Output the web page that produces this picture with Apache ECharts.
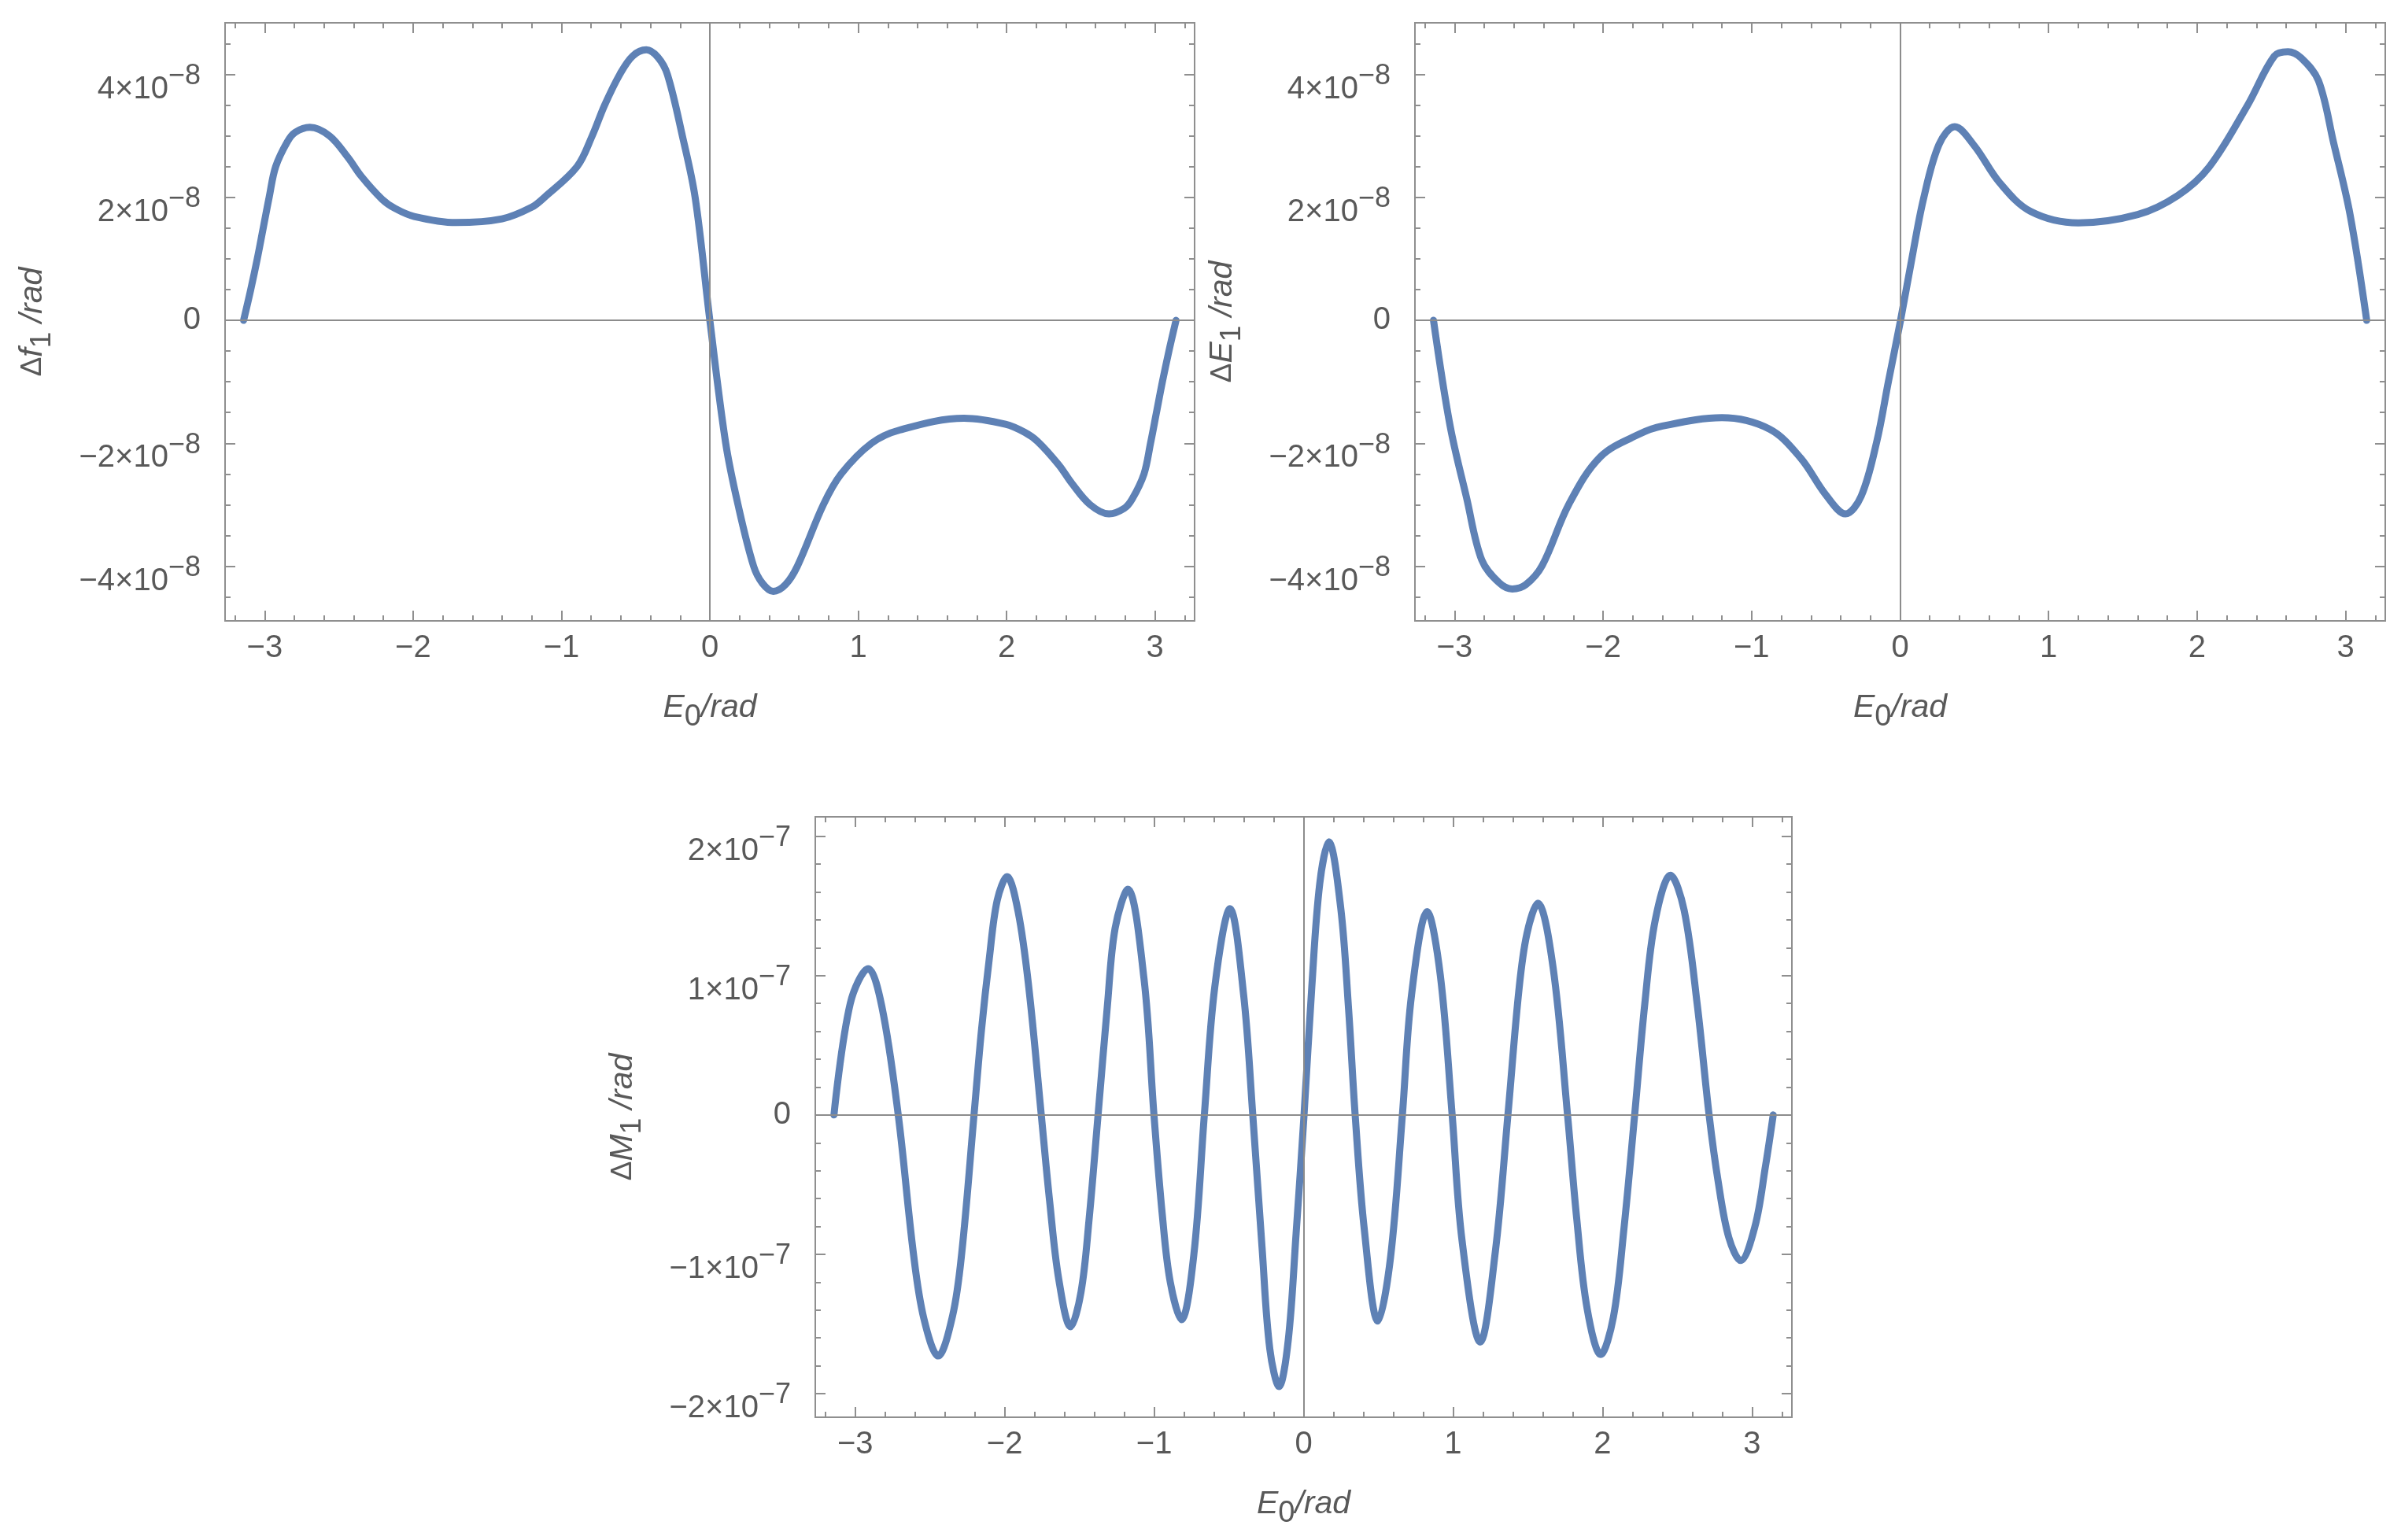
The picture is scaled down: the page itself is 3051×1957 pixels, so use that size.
<!DOCTYPE html>
<html><head><meta charset="utf-8">
<script src="https://cdn.jsdelivr.net/npm/echarts@6/dist/echarts.min.js"></script>
<style>html,body{margin:0;padding:0;background:#fff}#c{width:3051px;height:1957px}</style>
</head><body><div id="c"></div>
<script>
// ---------- data ----------
// Plot 1: Δf1 vs E0
const f1X = [-3.142,-3.094,-3.050,-3.010,-2.970,-2.926,-2.846,-2.793,-2.696,-2.563,-2.439,-2.351,-2.209,-2.121,-1.993,-1.710,-1.400,-1.200,-1.115,-0.895,-0.793,-0.709,-0.607,-0.520,-0.428,-0.350,-0.286,-0.185,-0.099,0.000,0.107,0.190,0.295,0.355,0.428,0.510,0.590,0.765,0.885,1.090,1.279,1.713,1.993,2.121,2.209,2.351,2.439,2.563,2.690,2.793,2.846,2.926,2.970,3.010,3.050,3.094,3.142];
const f1Y = [0,0.5e-8,1.0e-8,1.5e-8,2.0e-8,2.5e-8,2.91e-8,3.06e-8,3.14e-8,3.0e-8,2.65e-8,2.35e-8,1.97e-8,1.82e-8,1.69e-8,1.59e-8,1.65e-8,1.84e-8,2.0e-8,2.5e-8,3.0e-8,3.5e-8,4.0e-8,4.30e-8,4.40e-8,4.28e-8,4.0e-8,3.0e-8,2.0e-8,0,-2.0e-8,-3.0e-8,-4.0e-8,-4.28e-8,-4.41e-8,-4.30e-8,-4.0e-8,-3.0e-8,-2.5e-8,-2.0e-8,-1.785e-8,-1.593e-8,-1.69e-8,-1.82e-8,-1.97e-8,-2.35e-8,-2.65e-8,-3.0e-8,-3.15e-8,-3.06e-8,-2.91e-8,-2.5e-8,-2.0e-8,-1.5e-8,-1.0e-8,-0.5e-8,0];
// Plot 2: ΔE1 vs E0
const e1X = [-3.142,-3.030,-2.920,-2.817,-2.700,-2.612,-2.520,-2.410,-2.230,-2.018,-1.755,-1.600,-1.200,-0.880,-0.670,-0.500,-0.368,-0.262,-0.157,-0.079,0.003,0.079,0.157,0.262,0.368,0.500,0.670,0.880,1.200,1.600,1.870,2.080,2.340,2.520,2.612,2.700,2.817,2.920,3.030,3.142];
const e1Y = [0,-1.72e-8,-2.88e-8,-3.90e-8,-4.27e-8,-4.37e-8,-4.30e-8,-3.99e-8,-2.99e-8,-2.22e-8,-1.85e-8,-1.72e-8,-1.585e-8,-1.77e-8,-2.24e-8,-2.84e-8,-3.15e-8,-2.86e-8,-1.97e-8,-1.0e-8,0,1.0e-8,1.97e-8,2.86e-8,3.15e-8,2.84e-8,2.24e-8,1.77e-8,1.585e-8,1.72e-8,2.03e-8,2.49e-8,3.50e-8,4.30e-8,4.37e-8,4.27e-8,3.90e-8,2.88e-8,1.72e-8,0];
// Plot 3: ΔM1 vs E0
const m1X = [-3.142,-3.033,-2.913,-2.822,-2.712,-2.611,-2.541,-2.445,-2.348,-2.287,-2.205,-2.155,-2.103,-2.050,-1.984,-1.910,-1.839,-1.755,-1.699,-1.638,-1.559,-1.489,-1.436,-1.375,-1.313,-1.261,-1.176,-1.068,-1.001,-0.945,-0.892,-0.817,-0.734,-0.664,-0.594,-0.492,-0.401,-0.340,-0.278,-0.226,-0.164,-0.103,-0.050,0.003,0.055,0.108,0.169,0.248,0.301,0.345,0.406,0.497,0.582,0.661,0.722,0.827,0.915,0.994,1.060,1.182,1.283,1.367,1.441,1.494,1.567,1.669,1.766,1.827,1.897,1.988,2.073,2.143,2.215,2.283,2.353,2.455,2.546,2.634,2.713,2.774,2.845,2.924,3.020,3.090,3.142];
const m1Y = [0,0.80e-7,1.05e-7,0.78e-7,0,-0.99e-7,-1.46e-7,-1.73e-7,-1.44e-7,-0.99e-7,0,0.61e-7,1.12e-7,1.54e-7,1.71e-7,1.46e-7,0.92e-7,0,-0.62e-7,-1.18e-7,-1.52e-7,-1.27e-7,-0.76e-7,0,0.78e-7,1.34e-7,1.62e-7,0.98e-7,0,-0.72e-7,-1.20e-7,-1.47e-7,-1.0e-7,0,0.92e-7,1.48e-7,0.86e-7,0,-0.95e-7,-1.68e-7,-1.95e-7,-1.62e-7,-0.85e-7,0,0.92e-7,1.66e-7,1.96e-7,1.49e-7,0.76e-7,0,-0.82e-7,-1.48e-7,-1.02e-7,0,0.86e-7,1.46e-7,1.0e-7,0,-0.90e-7,-1.63e-7,-0.98e-7,0,0.90e-7,1.30e-7,1.52e-7,1.06e-7,0,-0.74e-7,-1.39e-7,-1.72e-7,-1.45e-7,-0.82e-7,0,0.80e-7,1.40e-7,1.72e-7,1.47e-7,0.79e-7,0,-0.48e-7,-0.88e-7,-1.045e-7,-0.80e-7,-0.37e-7,0];

// tick labels
const xTickValues = [-3,-2,-1,0,1,2,3];
const xTickLabels = ['−3','−2','−1','0','1','2','3'];
const yTickValues8 = [-4e-8,-2e-8,0,2e-8,4e-8];
const yTickMant8 = ['−4','−2','0','2','4'];
const yTickExp8 = ['−8','−8','','−8','−8'];
const yTickValues7 = [-2e-7,-1e-7,0,1e-7,2e-7];
const yTickMant7 = ['−2','−1','0','1','2'];
const yTickExp7 = ['−7','−7','','−7','−7'];

// ---------- styling ----------
const FONT = 'Liberation Sans';
const TXT = '#595959';
const FRAME = '#8f8f8f';
const ZEROLINE = '#8c8c8c';
const LINE = '#5e81b5';

function zip(xs, ys){ return xs.map((x,i)=>[x, ys[i]]); }

function xFmt(v){
  const i = xTickValues.findIndex(t => Math.abs(t - v) < 1e-6);
  return i < 0 ? '' : '{z|' + xTickLabels[i] + '}';
}
function yFmt(vals, mant, exps, step){
  return function(v){
    const i = vals.findIndex(t => Math.abs(t - v) < step * 1e-3);
    if (i < 0) return '';
    if (!exps[i]) return '{z|' + mant[i] + '}';
    return '{m|' + mant[i] + '×10}{e|' + exps[i] + '}';
  };
}

const labelRich = {
  z: {fontFamily: FONT, fontSize: 40, color: TXT},
  m: {fontFamily: FONT, fontSize: 40, color: TXT, padding: [38,0,0,0]},
  e: {fontFamily: FONT, fontSize: 36, color: TXT, padding: [5,0,0,0]}
};

const XR = [-3.267, 3.267];

const grids = [
  {left: 286, top: 29, width: 1232, height: 760},
  {left: 1798, top: 29, width: 1233, height: 760},
  {left: 1036, top: 1038, width: 1241, height: 763}
];
const yRanges = [[-4.89e-8, 4.84e-8], [-4.89e-8, 4.84e-8], [-2.17e-7, 2.14e-7]];
const yMajor = [2e-8, 2e-8, 1e-7];
const yMinor = [0.5e-8, 0.5e-8, 0.2e-7];
const yFormatters = [
  yFmt(yTickValues8, yTickMant8, yTickExp8, 2e-8),
  yFmt(yTickValues8, yTickMant8, yTickExp8, 2e-8),
  yFmt(yTickValues7, yTickMant7, yTickExp7, 1e-7)
];
const yNames = ['{d|Δ}{i|f}{s|1}{i| /rad}', '{d|Δ}{i|E}{s|1}{i| /rad}', '{d|Δ}{i|M}{s|1}{i| /rad}'];
const xName = '{i|E}{s|0}{i|/rad}';

const xAxes = [], yAxes = [];
grids.forEach((g, gi) => {
  const tickStyle = {color: FRAME, width: 2};
  const baseX = {gridIndex: gi, type: 'value', min: XR[0], max: XR[1],
    axisLine: {show: false, onZero: false}, splitLine: {show: false}};
  xAxes.push(Object.assign({}, baseX, {position: 'bottom', minInterval: 1, maxInterval: 1,
    axisTick: {show: true, inside: true, length: 13, lineStyle: tickStyle},
    axisLabel: {show: true, margin: 15, formatter: xFmt, rich: labelRich, fontFamily: FONT, fontSize: 40, color: TXT},
    name: xName, nameLocation: 'middle', nameGap: 80,
    nameTextStyle: {fontFamily: FONT, fontSize: 41, color: TXT,
      rich: {i: {fontFamily: FONT, fontSize: 41, fontStyle: 'italic', color: TXT},
             s: {fontFamily: FONT, fontSize: 38, color: TXT, padding: [24,0,0,0]}}}}));
  xAxes.push(Object.assign({}, baseX, {position: 'bottom', minInterval: 0.2, maxInterval: 0.2,
    axisTick: {show: true, inside: true, length: 7, lineStyle: tickStyle}, axisLabel: {show: false}}));
  xAxes.push(Object.assign({}, baseX, {position: 'top', minInterval: 1, maxInterval: 1,
    axisTick: {show: true, inside: true, length: 13, lineStyle: tickStyle}, axisLabel: {show: false}}));
  xAxes.push(Object.assign({}, baseX, {position: 'top', minInterval: 0.2, maxInterval: 0.2,
    axisTick: {show: true, inside: true, length: 7, lineStyle: tickStyle}, axisLabel: {show: false}}));

  const yr = yRanges[gi];
  const baseY = {gridIndex: gi, type: 'value', min: yr[0], max: yr[1],
    axisLine: {show: false, onZero: false}, splitLine: {show: false}};
  yAxes.push(Object.assign({}, baseY, {position: 'left', minInterval: yMajor[gi], maxInterval: yMajor[gi],
    axisTick: {show: true, inside: true, length: 13, lineStyle: tickStyle},
    axisLabel: {show: true, margin: 31, formatter: yFormatters[gi], rich: labelRich, fontFamily: FONT, fontSize: 40, color: TXT},
    name: yNames[gi], nameLocation: 'middle', nameGap: 214,
    nameTextStyle: {fontFamily: FONT, fontSize: 41, color: TXT,
      rich: {d: {fontFamily: FONT, fontSize: 37, color: TXT},
             i: {fontFamily: FONT, fontSize: 41, fontStyle: 'italic', color: TXT},
             s: {fontFamily: FONT, fontSize: 37, color: TXT, padding: [24,0,0,0]}}}}));
  yAxes.push(Object.assign({}, baseY, {position: 'left', minInterval: yMinor[gi], maxInterval: yMinor[gi],
    axisTick: {show: true, inside: true, length: 7, lineStyle: tickStyle}, axisLabel: {show: false}}));
  yAxes.push(Object.assign({}, baseY, {position: 'right', minInterval: yMajor[gi], maxInterval: yMajor[gi],
    axisTick: {show: true, inside: true, length: 13, lineStyle: tickStyle}, axisLabel: {show: false}}));
  yAxes.push(Object.assign({}, baseY, {position: 'right', minInterval: yMinor[gi], maxInterval: yMinor[gi],
    axisTick: {show: true, inside: true, length: 7, lineStyle: tickStyle}, axisLabel: {show: false}}));
});

const curves = [zip(f1X, f1Y), zip(e1X, e1Y), zip(m1X, m1Y)];
const series = [];
curves.forEach((d, gi) => {
  series.push({type: 'line', xAxisIndex: gi*4, yAxisIndex: gi*4, data: [], z: 1, silent: true,
    markLine: {silent: true, symbol: 'none', animation: false, label: {show: false},
      lineStyle: {color: ZEROLINE, width: 2, type: 'solid'},
      data: [{xAxis: 0}, {yAxis: 0}]}});
  series.push({type: 'line', xAxisIndex: gi*4, yAxisIndex: gi*4, data: d, z: 3,
    symbol: 'none', showSymbol: false, smooth: 0.35,
    lineStyle: {color: LINE, width: 9, cap: 'round', join: 'round'}});
});

const chart = echarts.init(document.getElementById('c'), null, {renderer: 'canvas'});
chart.setOption({
  animation: false,
  backgroundColor: '#ffffff',
  grid: grids.map(g => Object.assign({show: true, borderColor: FRAME, borderWidth: 2, backgroundColor: 'transparent', containLabel: false}, g)),
  xAxis: xAxes,
  yAxis: yAxes,
  series: series
});
</script>
</body></html>
